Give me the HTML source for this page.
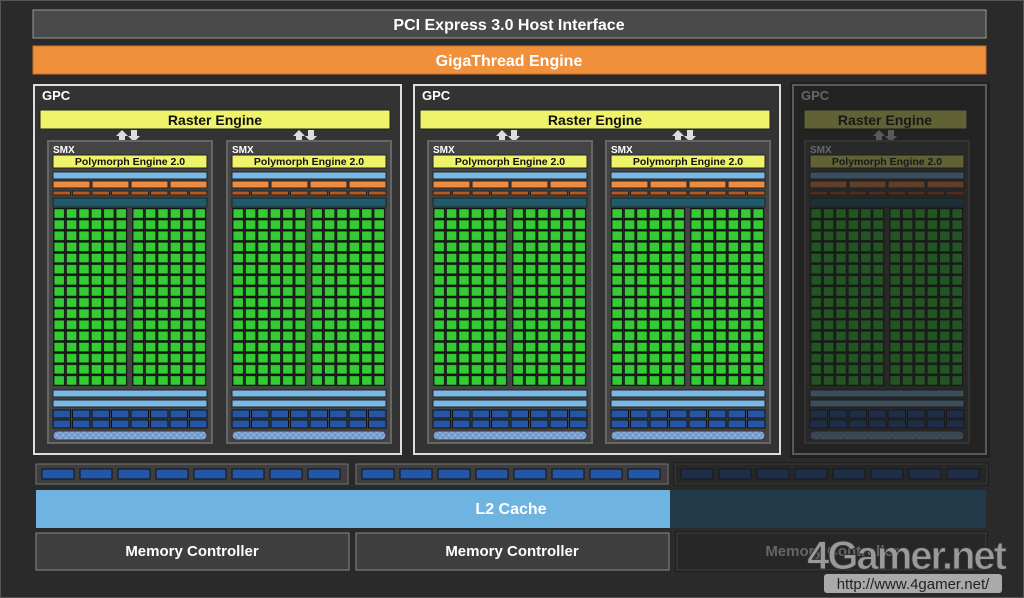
<!DOCTYPE html>
<html><head><meta charset="utf-8"><style>
html,body{margin:0;padding:0;background:#2a2a2a;}
svg{display:block;font-family:"Liberation Sans",sans-serif;font-weight:bold;}
</style></head><body>
<svg width="1024" height="598" viewBox="0 0 1024 598" xmlns="http://www.w3.org/2000/svg">
<defs>
<pattern id="g" x="0" y="0" width="0.16667" height="0.0625" patternUnits="objectBoundingBox">
<rect x="0.8" y="0.6" width="10.8" height="9.9" fill="#33cc33" stroke="#111" stroke-width="1.2"/>
</pattern>
<pattern id="h" width="6" height="6" patternUnits="userSpaceOnUse">
<rect width="6" height="6" fill="#8aaedb"/><path d="M0 0L6 6M6 0L0 6" stroke="#6d90c0" stroke-width="1"/>
</pattern>
<g id="smx">
<rect x="0" y="0" width="164" height="302" fill="#444" stroke="#666" stroke-width="2"/>
<rect x="5" y="14" width="154" height="13" fill="#eef36a" stroke="#222"/>
<rect x="5" y="31" width="154" height="7" fill="#7ab9e6" stroke="#222"/>
<rect x="5" y="40" width="37" height="7" fill="#f08a3c" stroke="#222"/>
<rect x="44" y="40" width="37" height="7" fill="#f08a3c" stroke="#222"/>
<rect x="83" y="40" width="37" height="7" fill="#f08a3c" stroke="#222"/>
<rect x="122" y="40" width="37" height="7" fill="#f08a3c" stroke="#222"/>
<g fill="#b8581c" stroke="#222">
<rect x="5" y="50" width="17.5" height="4"/><rect x="24.5" y="50" width="17.5" height="4"/><rect x="44" y="50" width="17.5" height="4"/><rect x="63.5" y="50" width="17.5" height="4"/><rect x="83" y="50" width="17.5" height="4"/><rect x="102.5" y="50" width="17.5" height="4"/><rect x="122" y="50" width="17.5" height="4"/><rect x="141.5" y="50" width="17.5" height="4"/>
</g>
<rect x="5" y="57" width="154" height="9" fill="#1f5a6a" stroke="#222"/>
<rect x="5" y="67" width="74.4" height="178" fill="url(#g)"/>
<rect x="84" y="67" width="74.4" height="178" fill="url(#g)"/>
<rect x="5" y="249" width="154" height="7" fill="#7ab9e6" stroke="#222"/>
<rect x="5" y="259" width="154" height="7" fill="#7ab9e6" stroke="#222"/>
<g fill="#2456a8" stroke="#111">
<rect x="5" y="269" width="17.5" height="8"/><rect x="24.5" y="269" width="17.5" height="8"/><rect x="44" y="269" width="17.5" height="8"/><rect x="63.5" y="269" width="17.5" height="8"/><rect x="83" y="269" width="17.5" height="8"/><rect x="102.5" y="269" width="17.5" height="8"/><rect x="122" y="269" width="17.5" height="8"/><rect x="141.5" y="269" width="17.5" height="8"/>
<rect x="5" y="279" width="17.5" height="8"/><rect x="24.5" y="279" width="17.5" height="8"/><rect x="44" y="279" width="17.5" height="8"/><rect x="63.5" y="279" width="17.5" height="8"/><rect x="83" y="279" width="17.5" height="8"/><rect x="102.5" y="279" width="17.5" height="8"/><rect x="122" y="279" width="17.5" height="8"/><rect x="141.5" y="279" width="17.5" height="8"/>
</g>
<rect x="5" y="290" width="154" height="9" rx="4.5" fill="url(#h)" stroke="#333"/>
</g>
<g id="arr" fill="#ddd">
<polygon points="0,6 6,0 12,6 9,6 9,12 3,12 3,6"/>
<polygon points="12,6 15,6 15,0 21,0 21,6 24,6 18,12"/>
</g>
<g id="bar">
<rect x="0" y="0" width="312" height="20" fill="#3e3e3e" stroke="#777"/>
<g fill="#2456a8" stroke="#111">
<rect x="6" y="5" width="32" height="10"/><rect x="44" y="5" width="32" height="10"/><rect x="82" y="5" width="32" height="10"/><rect x="120" y="5" width="32" height="10"/><rect x="158" y="5" width="32" height="10"/><rect x="196" y="5" width="32" height="10"/><rect x="234" y="5" width="32" height="10"/><rect x="272" y="5" width="32" height="10"/>
</g>
</g>
</defs>
<rect x="0.5" y="0.5" width="1023" height="597" fill="#2a2a2a" stroke="#555"/>
<rect x="33" y="10" width="953" height="28" fill="#4a4a4a" stroke="#999"/>
<text x="509" y="30" fill="#fff" font-size="16" text-anchor="middle">PCI Express 3.0 Host Interface</text>
<rect x="33" y="46" width="953" height="28" fill="#f0903a" stroke="#c8702a"/>
<text x="509" y="66" fill="#fff" font-size="16" text-anchor="middle">GigaThread Engine</text>

<rect x="34" y="85" width="367" height="369" fill="#333" stroke="#ddd" stroke-width="2"/>
<text x="42" y="100" fill="#fff" font-size="13">GPC</text>
<rect x="40" y="110" width="350" height="19" fill="#eef36a" stroke="#222"/>
<text x="215" y="125" fill="#111" font-size="14" text-anchor="middle">Raster Engine</text>
<use href="#arr" x="116" y="130"/><use href="#arr" x="293" y="130"/>
<use href="#smx" x="48" y="141"/><use href="#smx" x="227" y="141"/>

<rect x="414" y="85" width="366" height="369" fill="#333" stroke="#ddd" stroke-width="2"/>
<text x="422" y="100" fill="#fff" font-size="13">GPC</text>
<rect x="420" y="110" width="350" height="19" fill="#eef36a" stroke="#222"/>
<text x="595" y="125" fill="#111" font-size="14" text-anchor="middle">Raster Engine</text>
<use href="#arr" x="496" y="130"/><use href="#arr" x="672" y="130"/>
<use href="#smx" x="428" y="141"/><use href="#smx" x="606" y="141"/>

<rect x="793" y="85" width="193" height="369" fill="#333" stroke="#ddd" stroke-width="2"/>
<text x="801" y="100" fill="#fff" font-size="13">GPC</text>
<rect x="804" y="110" width="163" height="19" fill="#eef36a" stroke="#222"/>
<text x="885" y="125" fill="#111" font-size="14" text-anchor="middle">Raster Engine</text>
<use href="#arr" x="873" y="130"/>
<use href="#smx" x="805" y="141"/>

<g fill="#fff" font-size="10">
<text x="53" y="153">SMX</text><text x="232" y="153">SMX</text><text x="433" y="153">SMX</text><text x="611" y="153">SMX</text><text x="810" y="153">SMX</text>
</g>
<g fill="#111" font-size="10.5" text-anchor="middle">
<text x="130" y="165">Polymorph Engine 2.0</text><text x="309" y="165">Polymorph Engine 2.0</text><text x="510" y="165">Polymorph Engine 2.0</text><text x="688" y="165">Polymorph Engine 2.0</text><text x="887" y="165">Polymorph Engine 2.0</text>
</g>

<use href="#bar" x="36" y="464"/><use href="#bar" x="356" y="464"/><use href="#bar" x="675" y="464"/>

<rect x="36" y="490" width="634" height="38" fill="#6fb3e0"/>
<rect x="670" y="490" width="316" height="38" fill="#22394a"/>
<text x="511" y="514" fill="#fff" font-size="16" text-anchor="middle">L2 Cache</text>

<rect x="36" y="533" width="313" height="37" fill="#3e3e3e" stroke="#888"/>
<text x="192" y="556" fill="#fff" font-size="15" text-anchor="middle">Memory Controller</text>
<rect x="356" y="533" width="313" height="37" fill="#3e3e3e" stroke="#888"/>
<text x="512" y="556" fill="#fff" font-size="15" text-anchor="middle">Memory Controller</text>
<rect x="677" y="533" width="309" height="37" fill="#3e3e3e" stroke="#888"/>
<text x="832" y="556" fill="#fff" font-size="15" text-anchor="middle">Memory Controller</text>

<g fill="#1c1c1c" opacity="0.68">
<rect x="790" y="82" width="200" height="376"/>
<rect x="673" y="462" width="316" height="24"/>
<rect x="675" y="531" width="313" height="41"/>
</g>

<text x="1005" y="569" fill="#9a9a9a" stroke="#333" stroke-width="1" font-size="40" text-anchor="end" letter-spacing="-2" font-weight="bold">4Gamer.net</text>
<rect x="824" y="574" width="178" height="19" rx="3" fill="#aaa"/>
<text x="913" y="589" fill="#222" font-size="15" font-weight="normal" text-anchor="middle">http://www.4gamer.net/</text>
</svg>
</body></html>
